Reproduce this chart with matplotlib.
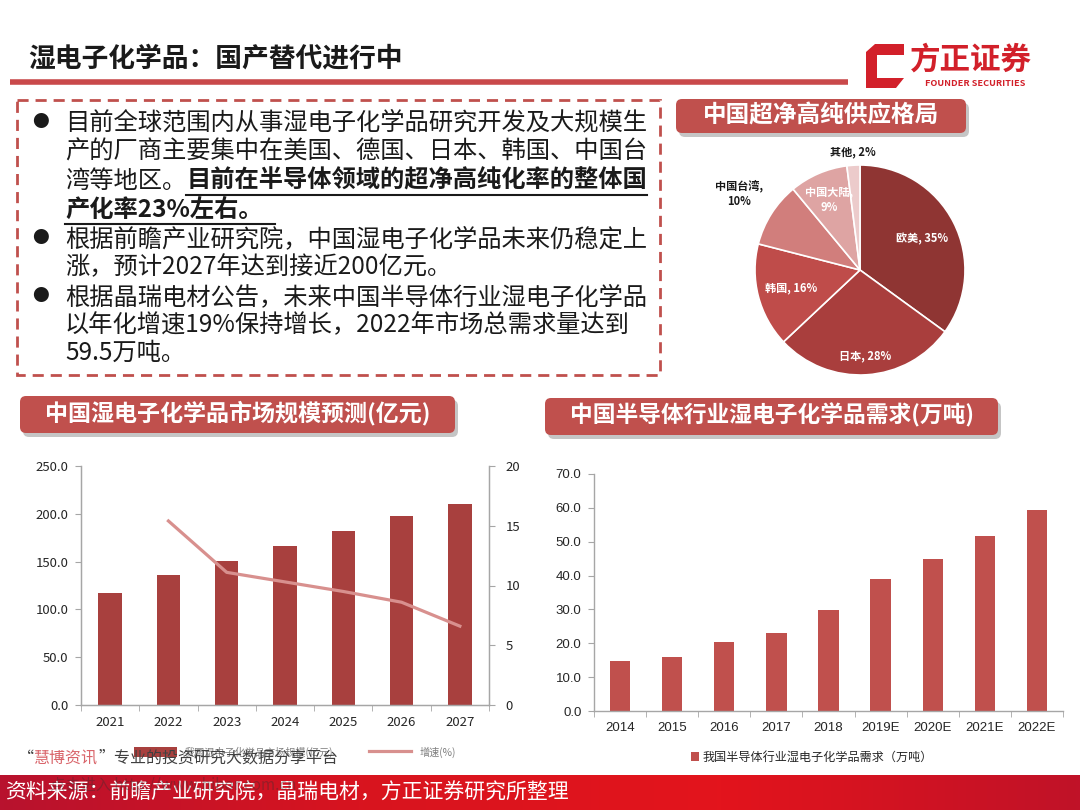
import matplotlib
matplotlib.use("Agg")
import numpy as np
import matplotlib.pyplot as plt
from matplotlib.patches import FancyBboxPatch, Rectangle, Polygon
from matplotlib.lines import Line2D
from matplotlib.colors import LinearSegmentedColormap

plt.rcParams['font.family'] = ['Noto Sans CJK SC', 'DejaVu Sans']

W, H = 1080, 810

# --- data ---
pie_names = ["欧美", "日本", "韩国", "中国台湾", "中国大陆", "其他"]
pie_shares = [35, 28, 16, 10, 9, 2]

market_years = ["2021", "2022", "2023", "2024", "2025", "2026", "2027"]
market_size = [117.3, 135.5, 150.4, 166.1, 181.8, 197.5, 210.3]      # 亿元
growth_pct = [np.nan, 15.4, 11.1, 10.3, 9.5, 8.6, 6.6]                # %

demand_years = ["2014", "2015", "2016", "2017", "2018", "2019E", "2020E", "2021E", "2022E"]
demand_wt = [14.9, 16.0, 20.3, 23.1, 29.8, 38.9, 44.9, 51.7, 59.5]   # 万吨

bullet_lines = [
    "目前全球范围内从事湿电子化学品研究开发及大规模生",
    "产的厂商主要集中在美国、德国、日本、韩国、中国台",
    None,  # mixed normal / bold line, drawn below
    None,
    "根据前瞻产业研究院，中国湿电子化学品未来仍稳定上",
    "涨，预计2027年达到接近200亿元。",
    "根据晶瑞电材公告，未来中国半导体行业湿电子化学品",
    "以年化增速19%保持增长，2022年市场总需求量达到",
    "59.5万吨。",
]

# --- styling ---
RED = "#c0504d"
DARK_BAR = "#a8403e"
LINE_PINK = "#d8908e"
AX_GREY = "#a6a6a6"
pie_colors = ["#8f3533", "#a93e3d", "#bf4c4a", "#d17e7c", "#dea4a3", "#eccbcb"]
pie_label_dist = [0.66, 0.82, 0.68, 1.36, 0.73, 1.13]
pie_label_wrap = [False, False, False, True, True, False]
pie_label_color = ["white", "white", "white", "#1a1a1a", "white", "#1a1a1a"]


def box(x0, y0, x1, y1):
    return [x0 / W, 1 - y1 / H, (x1 - x0) / W, (y1 - y0) / H]


fig = plt.figure(figsize=(W / 100, H / 100), dpi=100)
renderer = fig.canvas.get_renderer()

bg = fig.add_axes([0, 0, 1, 1], zorder=-5)
bg.set_xlim(0, W)
bg.set_ylim(H, 0)
bg.axis("off")


def ftext(x, y, s, **kw):
    kw.setdefault("va", "center")
    return fig.text(x / W, 1 - y / H, s, **kw)


def chain(x, y, pieces):
    spans = []
    for s, kw in pieces:
        t = ftext(x, y, s, ha="left", **kw)
        bb = t.get_window_extent(renderer)
        spans.append((x, bb.x1))
        x = bb.x1
    return spans


def title_box(x0, y0, x1, y1, s, size):
    sh = FancyBboxPatch((x0 + 3, y0 + 4), x1 - x0, y1 - y0,
                        boxstyle="round,pad=0,rounding_size=6",
                        fc="#7f7f7f", ec="none", alpha=0.45)
    bx = FancyBboxPatch((x0, y0), x1 - x0, y1 - y0,
                        boxstyle="round,pad=0,rounding_size=6",
                        fc=RED, ec="none")
    bg.add_patch(sh)
    bg.add_patch(bx)
    ftext((x0 + x1) / 2, (y0 + y1) / 2 - 1, s, ha="center", color="white",
          fontsize=size, fontweight="bold")


# --- header ---
ftext(28, 58, "湿电子化学品：国产替代进行中", fontsize=19.3, fontweight="bold", color="#1a1a1a")
bg.plot([10, 848], [82, 82], color="#c9494b", lw=4, solid_capstyle="butt")
bg.add_patch(Polygon([(866, 88), (866, 52), (875, 44), (904, 44), (904, 55),
                      (877, 55), (877, 78), (904, 78), (896, 88)],
                     closed=True, fc="#d2202a", ec="none"))
ftext(910, 60, "方正证券", fontsize=22, fontweight="bold", color="#d2202a")
ftext(975, 84, "FOUNDER SECURITIES", fontsize=6.6, fontweight="bold", color="#d2202a", ha="center")

# --- bullet box ---
bg.add_patch(Rectangle((17, 100), 643, 275, fill=False, ec=RED, lw=2,
                       linestyle=(0, (4, 2.5))))
line_y = [123, 152, 181, 210, 239, 267, 297, 325, 353]
for i, s in enumerate(bullet_lines):
    if s is not None:
        ftext(65, line_y[i], s, fontsize=17.5, color="#1a1a1a")
for i in (0, 4, 6):
    ftext(40, line_y[i], "●", fontsize=12, color="#1a1a1a", ha="center")

spans3 = chain(65, line_y[2], [("湾等地区。", dict(fontsize=17.5, color="#1a1a1a")),
                               ("目前在半导体领域的超净高纯化率的整体国",
                                dict(fontsize=17.5, color="#1a1a1a", fontweight="bold"))])
spans4 = chain(65, line_y[3], [("产化率23%左右。",
                                dict(fontsize=17.5, color="#1a1a1a", fontweight="bold"))])
bg.plot([spans3[1][0], spans3[1][1]], [line_y[2] + 14, line_y[2] + 14], color="#1a1a1a", lw=1.5)
bg.plot([spans4[0][0], spans4[0][1] + 12], [line_y[3] + 14, line_y[3] + 14], color="#1a1a1a", lw=1.5)

# --- panel titles ---
title_box(676, 99, 966, 133, "中国超净高纯供应格局", 17)
title_box(20, 396, 455, 433, "中国湿电子化学品市场规模预测(亿元)", 16.6)
title_box(545, 398, 998, 435, "中国半导体行业湿电子化学品需求(万吨)", 16.4)

# --- pie ---
axp = fig.add_axes(box(755, 165, 965, 375))
wedges, _ = axp.pie(pie_shares, colors=pie_colors, startangle=90, counterclock=False,
                    radius=1, wedgeprops=dict(edgecolor="white", linewidth=1.2))
axp.set_xlim(-1, 1)
axp.set_ylim(-1, 1)
axp.set_aspect("equal")
for w, name, share, d, wrap, c in zip(wedges, pie_names, pie_shares,
                                       pie_label_dist, pie_label_wrap, pie_label_color):
    ang = np.deg2rad((w.theta1 + w.theta2) / 2)
    sep = ",\n" if wrap else ", "
    axp.text(d * np.cos(ang), d * np.sin(ang), f"{name}{sep}{share}%", ha="center",
             va="center", color=c, fontsize=8, fontweight="bold", clip_on=False,
             linespacing=1.3)


def style_axis(ax, n):
    ax.spines["top"].set_visible(False)
    for sp in ("left", "bottom", "right"):
        ax.spines[sp].set_color(AX_GREY)
        ax.spines[sp].set_linewidth(1)
    ax.set_xlim(-0.5, n - 0.5)
    ax.set_xticks(np.arange(n))
    ax.set_xticks(np.arange(n + 1) - 0.5, minor=True)
    ax.tick_params(axis="x", which="major", length=0, pad=8, labelsize=9.5, labelcolor="#262626")
    ax.tick_params(axis="x", which="minor", length=4, color=AX_GREY, direction="out")
    ax.tick_params(axis="y", length=4, color=AX_GREY, direction="out", pad=5,
                   labelsize=9.5, labelcolor="#262626")
    ax.set_facecolor("none")


# --- market size chart ---
ax1 = fig.add_axes(box(81, 466, 489, 705))
x1 = np.arange(len(market_years))
ax1.bar(x1, market_size, width=0.4, color=DARK_BAR, zorder=2)
style_axis(ax1, len(market_years))
ax1.set_xticklabels(market_years)
ax1.set_ylim(0, 250)
ax1.set_yticks(np.arange(0, 251, 50))
ax1.set_yticklabels([f"{v:.1f}" for v in np.arange(0, 251, 50)])

ax1r = ax1.twinx()
ax1r.plot(x1, growth_pct, color=LINE_PINK, lw=2.3, zorder=3)
ax1r.set_ylim(0, 20)
ax1r.set_yticks(np.arange(0, 21, 5))
ax1r.spines["top"].set_visible(False)
for sp in ("left", "bottom", "right"):
    ax1r.spines[sp].set_color(AX_GREY)
ax1r.tick_params(axis="y", length=4, color=AX_GREY, direction="out", pad=8,
                 labelsize=9.5, labelcolor="#262626")

fig.legend([Rectangle((0, 0), 1, 1, fc=DARK_BAR), Line2D([], [], color=LINE_PINK, lw=2.3)],
           ["我国湿电子化学品市场规模(亿元)", "增速(%)"],
           loc="center", bbox_to_anchor=(295 / W, 1 - 752 / H), ncol=2, frameon=False,
           fontsize=7.3, handlelength=4.2, handleheight=1.1, columnspacing=3.5,
           labelcolor="#7f7f7f")

# --- demand chart ---
ax2 = fig.add_axes(box(594, 474, 1063, 711))
x2 = np.arange(len(demand_years))
ax2.bar(x2, demand_wt, width=0.39, color=RED, zorder=2)
style_axis(ax2, len(demand_years))
ax2.spines["right"].set_visible(False)
ax2.set_xticklabels(demand_years, family=["Liberation Sans", "DejaVu Sans"])
ax2.set_ylim(0, 70)
ax2.set_yticks(np.arange(0, 71, 10))
ax2.set_yticklabels([f"{v:.1f}" for v in np.arange(0, 71, 10)],
                    family=["Liberation Sans", "DejaVu Sans"])

fig.legend([Rectangle((0, 0), 1, 1, fc=RED)], ["我国半导体行业湿电子化学品需求（万吨）"],
           loc="center", bbox_to_anchor=(812 / W, 1 - 757 / H), frameon=False,
           fontsize=8.7, handlelength=0.7, handleheight=0.7, handletextpad=0.3,
           labelcolor="#262626")

# --- watermark ---
chain(18, 758, [("“", dict(fontsize=11.5, color="#404040")),
                ("慧博资讯", dict(fontsize=11.5, color="#d9646a")),
                ("”专业的投资研究大数据分享平台", dict(fontsize=11.5, color="#404040"))])
for t in fig.texts[-3:]:
    t.set_zorder(8)

# --- footer ---
grad = LinearSegmentedColormap.from_list("ft", ["#b8122e", "#d8141f", "#e3141c", "#c01228"])
bg.imshow(np.linspace(0, 1, 256)[None, :], cmap=grad, aspect="auto",
          extent=(0, W, H, 775), zorder=1)
bg.set_xlim(0, W)
bg.set_ylim(H, 0)
ftext(5, 793, "资料来源：前瞻产业研究院，晶瑞电材，方正证券研究所整理", fontsize=15, color="white")
ftext(50, 786, "点击进入 http://www.hibor.com.cn", fontsize=11, color="#303030", alpha=0.35)

fig.savefig("out.png", dpi=100)
